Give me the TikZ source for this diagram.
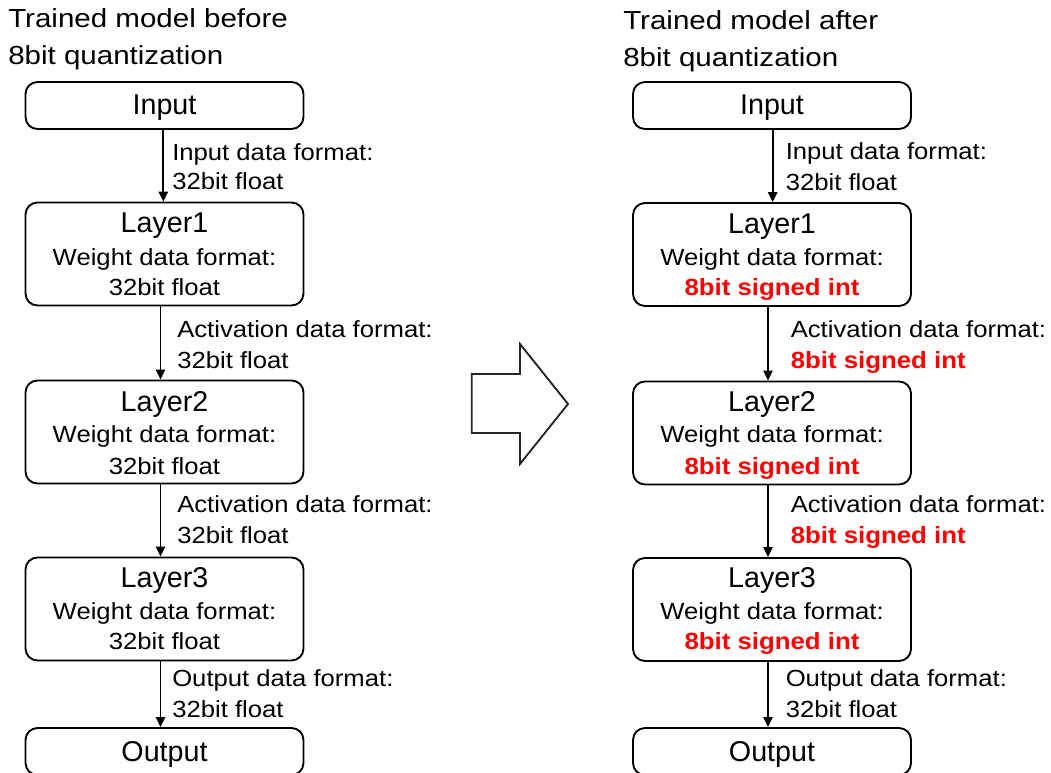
\documentclass[tikz,border=0pt]{standalone}
\usepackage{fontspec}
\setmainfont{Liberation Sans}[FakeStretch=1.1]
\newfontfamily\hdfont{Liberation Sans}
\newfontfamily\ttlfont{Liberation Sans}[FakeStretch=1.13]
\usetikzlibrary{arrows.meta}
\definecolor{qred}{RGB}{255,0,0}
\begin{document}
\begin{tikzpicture}[x=0.75pt,y=-0.75pt,
  box/.style={draw=black,line width=1.4pt,rounded corners=9pt,minimum width=208.5pt,inner sep=0pt},
  smallbox/.style={box,minimum height=35.25pt},
  layerbox/.style={box,minimum height=77.25pt},
  txt/.style={anchor=base,inner sep=0pt,font=\fontsize{17.5pt}{20pt}\selectfont},
  lbl/.style={txt,anchor=base west},
  redtxt/.style={txt,text=qred,font=\fontsize{17.6pt}{20pt}\selectfont\bfseries},
  redlbl/.style={redtxt,anchor=base west},
  hd/.style={anchor=base,inner sep=0pt,font=\hdfont\fontsize{21.5pt}{24pt}\selectfont},
  ttl/.style={anchor=base west,inner sep=0pt,font=\ttlfont\fontsize{19.6pt}{23pt}\selectfont},
  conn/.style={-{Triangle[length=7.5pt,width=7pt]},line width=1.35pt},
  bigarrow/.style={draw=black!85,line width=1.4pt,line join=miter}
]
\useasboundingbox (0,0) rectangle (1051,773);

% ---------- titles ----------
\node[ttl] (tL1) at (8,28) {Trained model before};
\node[ttl] (tL2) at (8,65) {8bit quantization};
\node[ttl] (tR1) at (623,30) {Trained model after};
\node[ttl] (tR2) at (623,67) {8bit quantization};

% ---------- left column ----------
\node[smallbox] (inL) at (164.5,105.5) {};
\node[hd] (inLt) at (164.5,115) {Input};
\node[layerbox] (l1L) at (164.5,254) {};
\node[hd] (l1La) at (164.5,233) {Layer1};
\node[txt] (l1Lb) at (164.5,266) {Weight data format:};
\node[txt] (l1Lc) at (164.5,296) {32bit float};
\node[layerbox] (l2L) at (164.5,432) {};
\node[hd] (l2La) at (164.5,412) {Layer2};
\node[txt] (l2Lb) at (164.5,443) {Weight data format:};
\node[txt] (l2Lc) at (164.5,475) {32bit float};
\node[layerbox] (l3L) at (164.5,609) {};
\node[hd] (l3La) at (164.5,588) {Layer3};
\node[txt] (l3Lb) at (164.5,620) {Weight data format:};
\node[txt] (l3Lc) at (164.5,650) {32bit float};
\node[smallbox] (outL) at (164.5,751.5) {};
\node[hd] (outLt) at (164.5,762) {Output};

\draw[conn] ([xshift=-0.9pt]inL.south) -- ([xshift=-0.9pt]l1L.north);
\draw[conn] ([xshift=-3pt]l1L.south) -- ([xshift=-3pt]l2L.north);
\draw[conn] ([xshift=-3pt]l2L.south) -- ([xshift=-3pt]l3L.north);
\draw[conn] ([xshift=-3pt]l3L.south) -- ([xshift=-3pt]outL.north);

\node[lbl] (aL0a) at (172,161) {Input data format:};
\node[lbl] (aL0b) at (172,190) {32bit float};
\node[lbl] (aL1a) at (177,338) {Activation data format:};
\node[lbl] (aL1b) at (177,369) {32bit float};
\node[lbl] (aL2a) at (177,513) {Activation data format:};
\node[lbl] (aL2b) at (177,544) {32bit float};
\node[lbl] (aL3a) at (172,687) {Output data format:};
\node[lbl] (aL3b) at (172,718) {32bit float};

% ---------- block arrow ----------
\draw[bigarrow] (471.7,374) -- (520,374) -- (520,344) -- (568,404) -- (520,464) -- (520,433) -- (471.7,433) -- cycle;

% ---------- right column ----------
\node[smallbox] (inR) at (772,105.5) {};
\node[hd] (inRt) at (772,115) {Input};
\node[layerbox] (l1R) at (772,254.5) {};
\node[hd] (l1Ra) at (772,234) {Layer1};
\node[txt] (l1Rb) at (772,266) {Weight data format:};
\node[redtxt] (l1Rc) at (772,296) {8bit signed int};
\node[layerbox] (l2R) at (772,433) {};
\node[hd] (l2Ra) at (772,412) {Layer2};
\node[txt] (l2Rb) at (772,443) {Weight data format:};
\node[redtxt] (l2Rc) at (772,475) {8bit signed int};
\node[layerbox] (l3R) at (772,609.5) {};
\node[hd] (l3Ra) at (772,588) {Layer3};
\node[txt] (l3Rb) at (772,620) {Weight data format:};
\node[redtxt] (l3Rc) at (772,650) {8bit signed int};
\node[smallbox] (outR) at (772,751.5) {};
\node[hd] (outRt) at (772,762) {Output};

\draw[conn] ([xshift=0.5pt]inR.south) -- ([xshift=0.5pt]l1R.north);
\draw[conn] ([xshift=-3pt]l1R.south) -- ([xshift=-3pt]l2R.north);
\draw[conn] ([xshift=-3pt]l2R.south) -- ([xshift=-3pt]l3R.north);
\draw[conn] ([xshift=-3pt]l3R.south) -- ([xshift=-3pt]outR.north);

\node[lbl] (aR0a) at (785.5,160) {Input data format:};
\node[lbl] (aR0b) at (785.5,190.5) {32bit float};
\node[lbl] (aR1a) at (790.5,338) {Activation data format:};
\node[redlbl] (aR1b) at (790.5,369) {8bit signed int};
\node[lbl] (aR2a) at (790.5,513) {Activation data format:};
\node[redlbl] (aR2b) at (790.5,544) {8bit signed int};
\node[lbl] (aR3a) at (785.5,687) {Output data format:};
\node[lbl] (aR3b) at (785.5,718) {32bit float};
\end{tikzpicture}
\end{document}
